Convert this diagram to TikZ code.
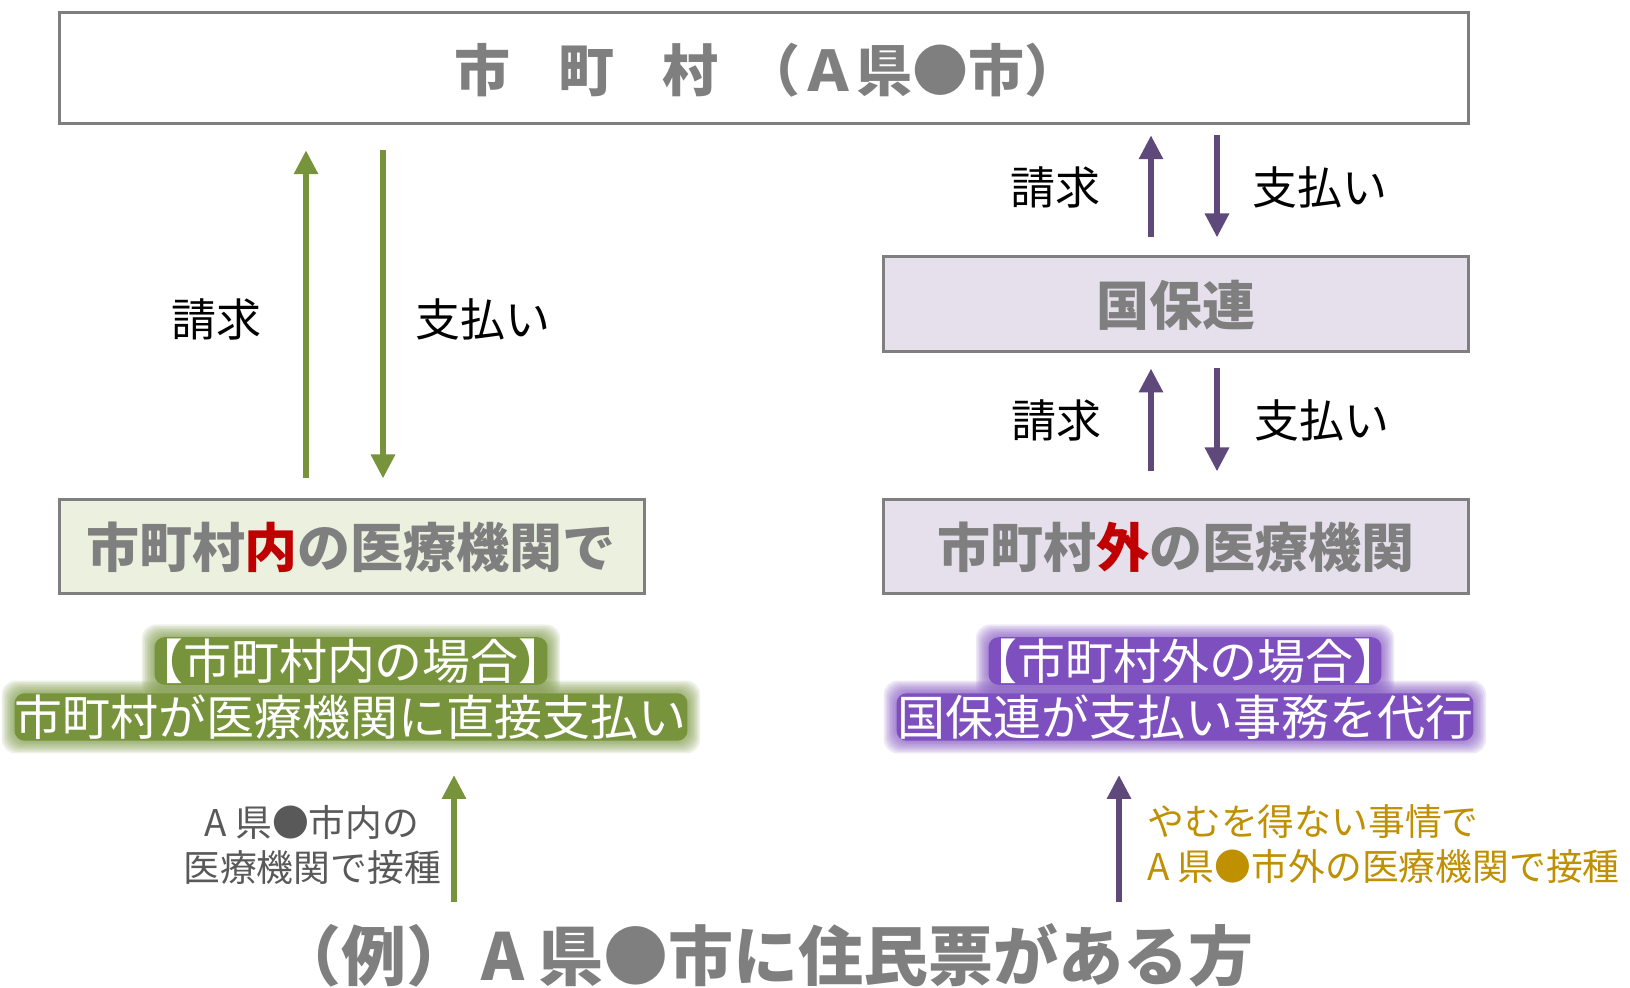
\documentclass[tikz,border=0pt]{standalone}
\usepackage{fontspec}
\setmainfont{Noto Sans CJK JP}
\usetikzlibrary{arrows.meta,calc}
\pgfdeclarelayer{background}
\pgfsetlayers{background,main}
\definecolor{txtgray}{HTML}{7F7F7F}
\definecolor{darkgray}{HTML}{595959}
\definecolor{arrgreen}{HTML}{77933C}
\definecolor{arrpurple}{HTML}{5F497A}
\definecolor{fillgreen}{HTML}{EBF1DE}
\definecolor{fillpurple}{HTML}{E6E0EC}
\definecolor{redtxt}{HTML}{C00000}
\definecolor{goldtxt}{HTML}{BF9000}
\definecolor{glowgreen}{HTML}{77933C}
\definecolor{glowpurple}{HTML}{7E4FBF}
\tikzset{
  box/.style={draw=txtgray, line width=1.5pt, inner sep=0pt},
  boxtext/.style={inner sep=0pt, text=txtgray, font=\bfseries\fontsize{26.5pt}{30pt}\selectfont},
  lbl/.style={inner sep=0pt, text=black, font=\fontsize{22.5pt}{26pt}\selectfont},
  garrow/.style={draw=arrgreen, line width=3pt, -{Triangle[width=11.5pt,length=12pt]}},
  parrow/.style={draw=arrpurple, line width=3pt, -{Triangle[width=11.5pt,length=12pt]}},
  gl/.style={inner sep=0pt, text=white, font=\fontsize{24pt}{28pt}\selectfont},
  small/.style={inner sep=0pt, font=\fontsize{18.4pt}{22.5pt}\selectfont},
}
% soft band of colour behind a line of text: node, colour, left inset, right inset
\newcommand\glowband[4]{%
  \begin{pgfonlayer}{background}
  \foreach \gk in {1,...,8}{%
    \fill[#2, opacity=0.12, rounded corners=7pt]
      ($(#1.north west)+(#3-\gk*1.6,-1-\gk*1.6)$) rectangle
      ($(#1.south east)+(-#4+\gk*1.6,1+\gk*1.6)$);}
  \fill[#2, rounded corners=5pt]
      ($(#1.north west)+(#3,-1)$) rectangle ($(#1.south east)+(-#4,1)$);
  \end{pgfonlayer}}
\begin{document}
\begin{tikzpicture}[x=0.5pt,y=-0.5pt]
\useasboundingbox (0,0) rectangle (1630,988);
\begin{pgfonlayer}{background}
\fill[white] (0,0) rectangle (1630,988);
\end{pgfonlayer}

% boxes
\node[box, fill=white, minimum width=704.5pt, minimum height=55.75pt] (top) at (763.5,68) {};
\node[boxtext, anchor=west, font=\bfseries\fontsize{28pt}{32pt}\selectfont] (toptext) at (454,70)
  {市\hspace{24pt}町\hspace{24pt}村\hspace{13pt}（Ａ県●市）};

\node[box, fill=fillpurple, minimum width=292.5pt, minimum height=47.5pt] (kbox) at (1175.5,304.5) {};
\node[boxtext] (ktext) at (1176,305) {国保連};

\node[box, fill=fillgreen, minimum width=292.5pt, minimum height=47pt] (lbox) at (351.5,547) {};
\node[boxtext] (ltext) at (351,547) {市町村{\color{redtxt}内}の医療機関で};

\node[box, fill=fillpurple, minimum width=292.5pt, minimum height=47pt] (rbox) at (1175.5,547) {};
\node[boxtext] (rtext) at (1176,547) {市町村{\color{redtxt}外}の医療機関};

% x positions of arrows
\coordinate (gx1) at (306,0);
\coordinate (gx2) at (383,0);
\coordinate (px1) at (1151,0);
\coordinate (px2) at (1217,0);

% left arrows
\draw[garrow, shorten <=10pt, shorten >=12.5pt] (lbox.north -| gx1) -- (top.south -| gx1);
\draw[garrow, shorten <=12.5pt, shorten >=10pt] (top.south -| gx2) -- (lbox.north -| gx2);
\node[lbl] (l1) at (216,319) {請求};
\node[lbl] (l2) at (483,319) {支払い};

% right upper arrows
\draw[parrow, shorten <=9pt, shorten >=5pt] (kbox.north -| px1) -- (top.south -| px1);
\draw[parrow, shorten <=5pt, shorten >=9pt] (top.south -| px2) -- (kbox.north -| px2);
\node[lbl] (r1) at (1055,187) {請求};
\node[lbl] (r2) at (1320,187) {支払い};

% right lower arrows
\draw[parrow, shorten <=13.5pt, shorten >=7.5pt] (rbox.north -| px1) -- (kbox.south -| px1);
\draw[parrow, shorten <=7.5pt, shorten >=13.5pt] (kbox.south -| px2) -- (rbox.north -| px2);
\node[lbl] (r3) at (1056,420) {請求};
\node[lbl] (r4) at (1322,420) {支払い};

% glow texts
\node[gl] (g1) at (351,661) {【市町村内の場合】};
\node[gl] (g2) at (351,717) {市町村が医療機関に直接支払い};
\node[gl] (p1) at (1185,661) {【市町村外の場合】};
\node[gl] (p2) at (1185,717) {国保連が支払い事務を代行};
\glowband{g1}{glowgreen}{20}{20}
\glowband{g2}{glowgreen}{0}{0}
\glowband{p1}{glowpurple}{20}{20}
\glowband{p2}{glowpurple}{0}{0}

% bottom arrows
\coordinate (ga0) at (454,902);
\coordinate (ga1) at (454,775);
\coordinate (pa0) at (1119,902);
\coordinate (pa1) at (1119,775);
\draw[garrow] (ga0) -- (ga1);
\draw[parrow] (pa0) -- (pa1);

% small texts
\node[small, text=darkgray, align=center] (st1) at (312,844.5) {A 県●市内の\\医療機関で接種};
\node[small, text=goldtxt, align=left, anchor=west] (st2) at (1147,844.5) {やむを得ない事情で\\A 県●市外の医療機関で接種};

% title
\node[inner sep=0pt, anchor=west, text=txtgray, font=\bfseries\fontsize{32.5pt}{36pt}\selectfont] (title) at (276,955) {（例）\hspace{0.15em}A 県●市に住民票がある方};
\end{tikzpicture}
\end{document}
